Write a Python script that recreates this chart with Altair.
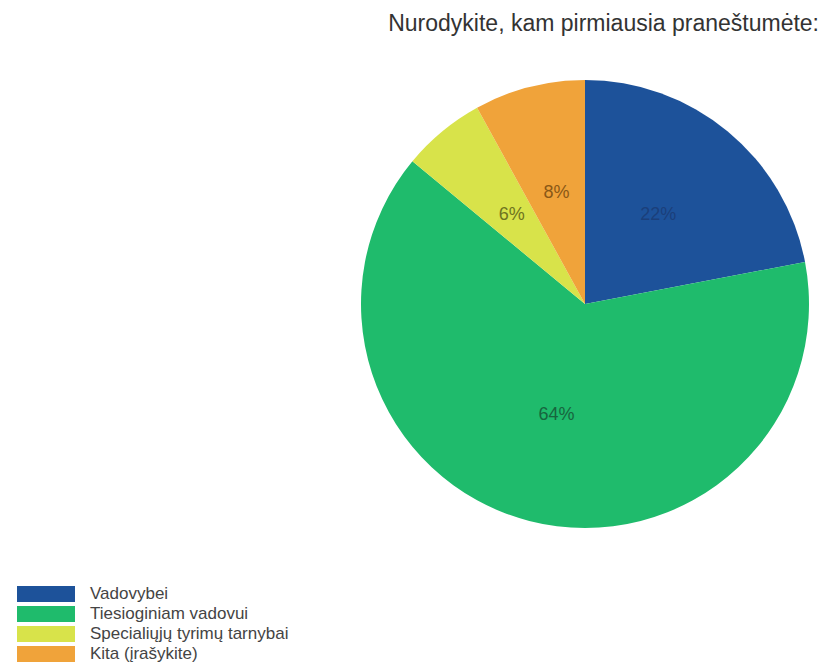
import altair as alt
import pandas as pd

categories = ["Vadovybei", "Tiesioginiam vadovui", "Specialiųjų tyrimų tarnybai", "Kita (įrašykite)"]
values = [22, 64, 6, 8]
labels = ["22%", "64%", "6%", "8%"]
colors = ["#1d529a", "#1fbb6c", "#d8e34a", "#f0a33a"]
label_colors = ["#1b3f7a", "#17653e", "#6f7420", "#8a5816"]

df = pd.DataFrame({
    "cat": categories,
    "val": values,
    "label": labels,
    "order": list(range(len(categories))),
})

FONT = "Liberation Sans"
TOP = 40
CX, CY, R = 585, 304 - TOP, 224

base = alt.Chart(df).encode(
    theta=alt.Theta("val:Q", stack=True),
    order=alt.Order("order:Q"),
)

arcs = base.mark_arc(outerRadius=R, stroke=None).encode(
    x=alt.value(CX),
    y=alt.value(CY),
    color=alt.Color("cat:N", scale=alt.Scale(domain=categories, range=colors), legend=None),
)

texts = base.mark_text(radius=115, font=FONT, fontSize=18).encode(
    x=alt.value(CX),
    y=alt.value(CY),
    text="label:N",
    color=alt.Color("cat:N", scale=alt.Scale(domain=categories, range=label_colors), legend=None),
)

leg_y = alt.Y(
    "cat:N",
    sort=categories,
    scale=alt.Scale(type="point", domain=categories, range=[594 - TOP, 654 - TOP], padding=0),
    axis=None,
)

leg_sym = alt.Chart(df).mark_point(
    shape="M-1,-0.276H1V0.276H-1Z", size=3364, filled=True, opacity=1, strokeWidth=0
).encode(
    x=alt.value(46),
    y=leg_y,
    color=alt.Color("cat:N", scale=alt.Scale(domain=categories, range=colors), legend=None),
)

leg_txt = alt.Chart(df).mark_text(
    align="left", baseline="middle", font=FONT, fontSize=17, color="#444444"
).encode(
    x=alt.value(90),
    y=leg_y,
    text="cat:N",
)

chart = (
    alt.layer(arcs, texts, leg_sym, leg_txt)
    .resolve_scale(color="independent")
    .properties(
        width=824,
        height=665 - TOP,
        padding={"top": TOP, "left": 0, "right": 0, "bottom": 0},
        autosize=alt.AutoSizeParams(type="none"),
        title=alt.TitleParams(
            "Nurodykite, kam pirmiausia praneštumėte:",
            anchor="end",
            frame="group",
            orient="top",
            baseline="alphabetic",
            offset=7,
            dx=-5,
            dy=21,
            font=FONT,
            fontSize=23,
            fontWeight="normal",
            color="#333333",
        ),
    )
    .configure_view(stroke=None)
)

chart.save("out.html", embed_options={"renderer": "svg", "actions": False})
